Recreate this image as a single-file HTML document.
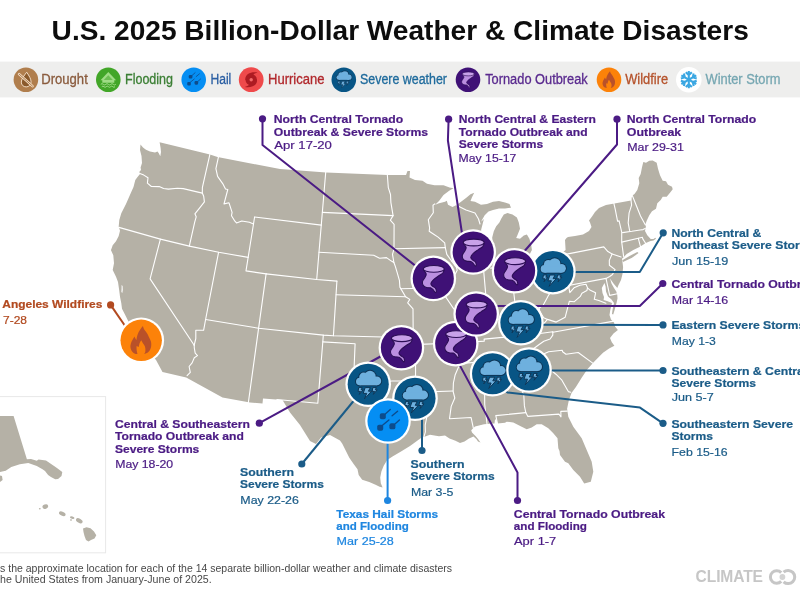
<!DOCTYPE html>
<html lang="en"><head><meta charset="utf-8"><title>U.S. 2025 Billion-Dollar Weather &amp; Climate Disasters</title>
<style>
html,body{margin:0;padding:0;background:#fff;}
body{width:800px;height:600px;overflow:hidden;}
svg{display:block;}
text{font-family:"Liberation Sans", sans-serif;}
.b{font-weight:700;}
.pl{fill:#4b1b84;} .sl{fill:#1b5c88;} .hl{fill:#1e86e0;} .fl{fill:#b24a20;}
.lab{font-size:11.6px;stroke-width:.22px;} .pl{stroke:#4b1b84;} .sl{stroke:#1b5c88;} .hl{stroke:#1e86e0;} .fl{stroke:#b24a20;}
.leg{font-size:14px;}
.ln{fill:none;stroke-width:2;stroke-linejoin:round;}
</style></head><body>
<svg width="800" height="600" viewBox="0 0 800 600">
<defs>
<g id="tornado">
<path d="M-9.7,-8.8 C-9,-7 -7.6,-5.8 -7.1,-4.5 C-6.8,-3 -8,-1.6 -8.8,-0.3 C-9.8,1 -10.8,2.4 -10.9,3.6 C-11,5 -10.8,6.2 -10.1,7 C-9.3,8.2 -8,8.8 -6.7,9.1 C-5.2,9.5 -3.8,9.2 -2.4,9.5 C-1.2,9.9 -0.6,10.8 0.1,11.6 C0.8,12.6 1.4,13.6 2.3,14.2 C3.2,13.8 3.3,13.2 3.1,12.5 C2.9,11.5 2.7,10.6 2.3,9.9 C1.5,9 0.2,8.6 -0.7,7.8 C-1.8,7 -2.6,6.2 -2.4,5.3 C-2,3.8 -1,2.5 0.1,1.4 C1.6,0 3.6,-1.2 5.2,-2.4 C6.8,-3.5 8.6,-4.4 9.5,-5.4 C10.3,-6.4 10.7,-7.6 10.9,-8.8 Z" fill="#bb8fe0" stroke="#2c0e55" stroke-width="1.1" stroke-linejoin="round"/>
<ellipse cx="0.5" cy="-9.5" rx="10.5" ry="3.4" fill="#c8a1e9" stroke="#2c0e55" stroke-width="1.1"/>
</g>
<g id="cloudshape">
<circle cx="-8.4" cy="-2.7" r="3.8"/><circle cx="-4.6" cy="-7.2" r="4.4"/><circle cx="1.8" cy="-7.7" r="5.7"/><circle cx="8.6" cy="-3.3" r="4.4"/><rect x="-8.4" y="-5.5" width="17" height="6.6"/>
</g>
<g id="severe">
<use href="#cloudshape" fill="#0d3556" stroke="#0d3556" stroke-width="2"/>
<use href="#cloudshape" fill="#6eb0de"/>
<g fill="#6eb0de" stroke="#0d3556" stroke-width="1" stroke-linejoin="round">
<path d="M-3,3.4 L2.2,3.4 L0.2,7 L3.4,7 L-3.7,14.7 L-1.5,9.2 L-5,9.2 Z"/>
<path d="M-9.5,3.4 L-5.9,3.4 L-7.1,5.6 L-5.1,5.6 L-8.9,10.2 L-7.7,7.2 L-10.1,7.2 Z"/>
<path d="M4.6,3.4 L8.2,3.4 L7,5.6 L9,5.6 L5.2,10.2 L6.4,7.2 L4,7.2 Z"/>
</g>
</g>
<g id="hail" fill="#0d4c8c" stroke="#0d4c8c" stroke-width="1.35" stroke-linecap="round">
<rect x="-8.2" y="-7.8" width="6" height="6" rx="1.9" stroke="none"/>
<rect x="-10.8" y="3.7" width="6" height="6" rx="1.9" stroke="none"/>
<rect x="1.4" y="2.3" width="6" height="6" rx="1.9" stroke="none"/>
<path d="M-3,-6.8 L2.3,-11.6 M4.1,-5.2 L9.6,-9.8 M-5.8,4.4 L0.9,-1.1 M6.4,3.4 L11.4,-1.1" fill="none"/>
</g>
<g id="flame">
<path d="M1.7,-14.2 C2.5,-11 3.5,-10 4.6,-8.75 C6,-7 7,-5 7.9,-2.9 C9,-1 10,1 10,2.9 C10.2,5 10,7 9.2,8.75 C8.5,10.5 7.5,11.8 6.25,12.5 C5,13.2 4,13.6 2.9,13.75 C3.8,12.8 4.2,11.5 4.2,10.4 C4.3,9 4.2,7.5 3.75,6.25 C3.2,5 2.5,3.8 1.7,2.9 C1.2,2 0.6,1 0,0 C-0.8,1.2 -1.4,2.3 -1.7,3.3 C-2,4.5 -2.3,5.6 -2.5,6.7 L-4.6,5.8 C-4.8,8 -4.6,11 -3.75,13.75 C-5,13.7 -6,13.5 -6.7,13.1 C-8,12.5 -9,11.5 -9.6,10.4 C-10.5,9 -10.9,7 -10.8,5.4 C-10.6,3.8 -10.2,2.5 -9.6,1.25 C-8.8,-0.5 -7.6,-2.2 -6.7,-3.75 C-6.3,-2.5 -5.6,-1.2 -4.75,-0.4 C-4.6,-2 -4.3,-3.8 -3.75,-5.4 C-3.2,-7.2 -2.2,-9 -1.25,-10.4 C-0.3,-11.8 0.8,-13 1.7,-14.2 Z" fill="#b95129"/>
</g>
<g id="iT"><circle r="22.8" fill="#fff"/><circle r="20.55" fill="#3f1176"/><use href="#tornado"/></g>
<g id="iS"><circle r="22.8" fill="#fff"/><circle r="20.55" fill="#085585"/><use href="#severe"/></g>
<g id="iH"><circle r="22.8" fill="#fff"/><circle r="20.55" fill="#058ef3"/><use href="#hail"/></g>
<g id="iF"><circle r="22.9" fill="#fff"/><circle r="20.7" fill="#fc8209"/><use href="#flame"/></g>
</defs>
<rect width="800" height="600" fill="#fff"/>

<text x="51.6" y="39.9" class="b" font-size="28" fill="#0d0d0d" textLength="697.2" lengthAdjust="spacingAndGlyphs">U.S. 2025 Billion-Dollar Weather &amp; Climate Disasters</text>
<rect x="0" y="61.6" width="800" height="35.8" fill="#eeeeed"/>
<g transform="translate(25.9,79.7)"><circle r="12.3" fill="#b07e4d"/><path d="M0.8,-7.5 C3.5,-3.5 5.2,-0.5 5.2,2.2 C5.2,5.2 3,7.2 0.3,7.2 C-2.6,7.2 -4.6,5.2 -4.6,2.4 C-4.6,-0.5 -2,-3.8 0.8,-7.5 Z" fill="#8a5a2c" stroke="#f2dcc4" stroke-width="1"/><path d="M-6.8,-5.6 L6.6,6.4" stroke="#f2dcc4" stroke-width="2.6" stroke-linecap="round"/><path d="M-6.8,-5.6 L6.6,6.4" stroke="#b07e4d" stroke-width="1" stroke-linecap="round"/></g>
<text x="41.2" y="84.4" class="leg" fill="#8a5b3d" stroke="#8a5b3d" stroke-width=".3" textLength="46.6" lengthAdjust="spacingAndGlyphs">Drought</text>
<g transform="translate(108.3,79.7)"><circle r="12.3" fill="#42a628"/><path d="M-7.8,0.6 L0,-7.6 L7.8,0.6 L6,0.6 L6,3 L-6,3 L-6,0.6 Z" fill="#9fdc85"/><path d="M-4.5,0.2 L0,-4.4 L4.5,0.2 Z" fill="#42a628" opacity=".55"/><path d="M-7.5,4.6 q1.25,-1.3 2.5,0 t2.5,0 t2.5,0 t2.5,0 t2.5,0 t2.5,0 M-6.5,7 q1.1,-1.2 2.2,0 t2.2,0 t2.2,0 t2.2,0 t2.2,0 t2.2,0" fill="none" stroke="#9fdc85" stroke-width="1"/></g>
<text x="125" y="84.4" class="leg" fill="#3b7f34" stroke="#3b7f34" stroke-width=".3" textLength="48" lengthAdjust="spacingAndGlyphs">Flooding</text>
<g transform="translate(193.7,79.7)"><circle r="12.3" fill="#058ef3"/><use href="#hail" transform="scale(0.6)"/></g>
<text x="210.5" y="84.4" class="leg" fill="#2b5fa3" stroke="#2b5fa3" stroke-width=".3" textLength="20.8" lengthAdjust="spacingAndGlyphs">Hail</text>
<g transform="translate(251.2,79.7)"><circle r="12.4" fill="#ef4a4b"/><g fill="#ad1b22"><circle r="5.7"/><path d="M-5.7,0.5 C-6.6,-5.2 -1.2,-8.4 6.4,-7.3 C3.4,-6.4 2,-5.4 1.6,-4 Z"/><path d="M5.7,-0.5 C6.6,5.2 1.2,8.4 -6.4,7.3 C-3.4,6.4 -2,5.4 -1.6,4 Z"/></g><circle r="1.7" fill="#f26a6a"/></g>
<text x="268" y="84.4" class="leg" fill="#b1282c" stroke="#b1282c" stroke-width=".3" textLength="56.5" lengthAdjust="spacingAndGlyphs">Hurricane</text>
<g transform="translate(343.8,79.7)"><circle r="12.3" fill="#085585"/><use href="#severe" transform="translate(0,-0.5) scale(0.6)"/></g>
<text x="360" y="84.4" class="leg" fill="#1d6a9c" stroke="#1d6a9c" stroke-width=".3" textLength="87" lengthAdjust="spacingAndGlyphs">Severe weather</text>
<g transform="translate(468,79.7)"><circle r="12.3" fill="#3f1176"/><use href="#tornado" transform="translate(0,-0.3) scale(0.58)"/></g>
<text x="485.2" y="84.4" class="leg" fill="#5a2a8f" stroke="#5a2a8f" stroke-width=".3" textLength="102.6" lengthAdjust="spacingAndGlyphs">Tornado Outbreak</text>
<g transform="translate(609,79.7)"><circle r="12.3" fill="#fc8209"/><use href="#flame" transform="scale(0.6)"/></g>
<text x="625.2" y="84.4" class="leg" fill="#b5522b" stroke="#b5522b" stroke-width=".3" textLength="43" lengthAdjust="spacingAndGlyphs">Wildfire</text>
<g transform="translate(688.8,79.7)"><circle r="12.8" fill="#fff"/><g stroke="#3ba7e2" stroke-width="2.1" stroke-linecap="butt" stroke-linejoin="miter" fill="none"><g transform="rotate(0)"><path d="M0,-8.6 L0,8.6 M-3,-7.4 L0,-4.6 L3,-7.4 M-3,7.4 L0,4.6 L3,7.4"/></g><g transform="rotate(60)"><path d="M0,-8.6 L0,8.6 M-3,-7.4 L0,-4.6 L3,-7.4 M-3,7.4 L0,4.6 L3,7.4"/></g><g transform="rotate(120)"><path d="M0,-8.6 L0,8.6 M-3,-7.4 L0,-4.6 L3,-7.4 M-3,7.4 L0,4.6 L3,7.4"/></g></g></g>
<text x="705.5" y="84.4" class="leg" fill="#76a7b2" stroke="#76a7b2" stroke-width=".3" textLength="75" lengthAdjust="spacingAndGlyphs">Winter Storm</text>
<g id="map"><path d="M159.6 142.2 L210.0 154.5 L217.5 157.0 L280.0 169.0 L326.0 172.5 L387.5 175.0 L406.0 175.0 L407.5 171.0 L410.0 171.0 L409.5 177.6 L415.0 180.0 L422.5 180.7 L427.0 183.7 L434.5 185.2 L443.5 185.2 L449.5 187.5 L453.5 188.2 L449.5 190.5 L443.5 195.0 L439.0 201.0 L435.2 204.7 L439.0 203.2 L445.0 201.7 L446.8 200.8 L448.0 204.7 L452.5 207.0 L457.0 204.7 L460.0 202.5 L466.0 198.0 L470.5 194.2 L474.2 192.7 L472.0 197.2 L470.5 201.0 L475.0 201.7 L481.0 204.7 L487.0 204.0 L493.0 201.7 L499.0 201.0 L505.0 202.5 L509.5 204.0 L511.0 207.7 L505.0 208.5 L499.0 208.5 L493.0 210.0 L488.5 211.5 L484.7 215.2 L481.7 220.5 L479.5 226.5 L478.6 229.0 L481.0 222.0 L483.9 219.0 L481.2 229.5 L480.5 245.0 L482.0 258.0 L487.0 266.0 L494.5 262.0 L494.8 252.5 L492.8 245.0 L492.2 237.5 L493.8 231.2 L496.2 226.2 L499.4 222.5 L501.2 218.8 L503.8 214.4 L507.5 213.1 L512.5 214.4 L516.9 217.5 L518.8 222.5 L520.0 228.8 L517.5 235.0 L516.2 238.1 L520.0 238.8 L523.8 235.6 L526.9 234.4 L529.4 238.8 L531.2 245.0 L531.9 250.0 L530.6 252.5 L528.0 258.0 L535.0 262.0 L550.0 256.0 L562.5 252.5 L565.6 250.0 L565.0 240.0 L566.5 238.0 L568.0 237.0 L575.0 236.0 L583.0 234.5 L589.0 231.0 L591.5 227.0 L590.0 222.5 L589.0 220.5 L592.0 216.5 L595.0 212.0 L599.0 208.0 L606.0 205.0 L614.4 203.6 L631.0 200.4 L632.3 195.5 L634.5 194.0 L637.3 190.0 L639.3 183.3 L638.7 178.0 L640.7 174.0 L642.0 167.3 L643.3 162.0 L646.0 162.7 L649.3 160.7 L652.7 160.4 L656.7 162.7 L658.0 168.7 L660.0 175.3 L662.7 180.7 L666.0 181.3 L668.0 184.7 L672.0 186.7 L672.7 189.3 L670.0 192.7 L666.7 196.7 L662.7 196.7 L660.7 200.0 L657.3 203.3 L656.0 208.7 L652.0 211.3 L649.3 215.3 L646.7 220.7 L645.3 224.7 L645.9 226.5 L645.0 231.0 L647.3 235.3 L650.7 239.0 L653.5 239.0 L655.3 237.8 L656.0 238.8 L653.5 240.4 L650.7 240.9 L649.3 241.4 L645.3 243.3 L640.0 246.7 L633.3 250.0 L626.7 254.0 L623.6 257.2 L622.0 258.8 L622.2 260.0 L623.1 267.0 L622.5 274.0 L621.0 280.0 L618.5 285.0 L617.3 288.0 L613.5 283.5 L610.0 278.5 L611.5 283.5 L614.0 288.0 L616.3 291.5 L617.3 295.0 L617.5 298.5 L616.5 303.0 L614.6 310.0 L613.2 314.5 L612.0 314.0 L612.5 310.0 L614.0 303.0 L611.5 299.5 L608.0 296.5 L606.0 291.5 L605.6 286.5 L604.5 283.0 L601.8 288.0 L602.5 293.0 L604.0 297.0 L603.6 300.0 L607.0 301.0 L612.0 303.0 L610.3 310.0 L609.5 315.0 L611.0 319.5 L614.0 322.5 L615.0 326.5 L617.9 330.0 L613.5 333.5 L610.0 337.9 L611.8 342.2 L614.4 345.8 L609.1 348.4 L603.0 352.8 L597.8 358.0 L593.4 362.4 L587.2 369.4 L582.0 377.2 L575.9 386.9 L571.5 393.0 L568.9 400.0 L567.1 408.8 L568.3 416.7 L573.3 426.7 L581.7 438.3 L586.7 450.0 L591.7 461.7 L593.3 471.7 L590.8 481.7 L584.2 483.5 L580.0 476.7 L573.3 470.0 L568.3 463.3 L565.0 461.7 L560.0 455.0 L559.5 451.0 L558.3 448.3 L557.5 438.3 L553.3 433.3 L548.3 428.3 L541.7 424.2 L536.7 424.2 L531.7 427.5 L526.7 429.2 L521.7 426.7 L513.3 422.5 L506.7 421.7 L505.0 422.7 L497.5 423.5 L496.5 419.5 L495.0 419.5 L494.5 423.5 L493.0 423.5 L484.0 424.2 L475.0 426.5 L471.2 430.2 L472.0 432.5 L475.5 436.0 L478.0 439.0 L480.5 442.5 L478.0 441.5 L476.5 439.2 L473.5 436.5 L469.0 438.5 L464.5 441.5 L460.0 443.0 L455.5 440.7 L449.5 438.5 L445.0 435.5 L439.0 436.2 L430.0 434.7 L421.0 438.0 L410.0 446.0 L400.6 451.8 L392.5 456.5 L387.2 460.0 L383.7 465.8 L381.4 471.6 L380.2 477.5 L380.8 483.3 L382.6 487.4 L379.6 486.8 L375.0 484.5 L369.2 482.1 L362.2 479.8 L358.7 475.1 L357.5 469.3 L354.0 464.6 L349.3 457.7 L345.8 450.7 L342.3 443.7 L340.0 440.5 L330.0 435.0 L321.0 437.5 L316.0 444.0 L310.0 441.0 L300.0 425.0 L290.0 412.5 L282.5 400.0 L263.0 398.5 L262.5 403.5 L250.0 402.5 L222.5 397.5 L186.2 377.5 L162.5 372.0 L156.0 360.0 L147.0 349.0 L135.0 335.0 L126.7 318.0 L124.7 314.0 L122.0 308.7 L121.3 303.3 L120.0 296.7 L119.3 291.0 L118.0 282.0 L116.0 276.7 L112.7 270.0 L114.0 263.3 L113.3 255.3 L110.9 250.0 L111.3 249.3 L112.7 245.3 L116.0 241.3 L118.7 236.0 L120.0 230.7 L118.7 226.7 L119.3 220.0 L121.3 213.3 L126.0 204.0 L130.7 193.3 L133.5 187.0 L135.3 180.0 L137.5 177.0 L140.0 174.0 L139.2 172.0 L141.0 170.0 L140.6 167.5 L142.0 163.0 L141.5 156.0 L140.0 150.0 L140.5 144.5 L143.0 147.5 L146.0 149.8 L150.0 151.5 L155.0 152.6 L157.5 151.5 L158.6 153.0 L160.3 156.2 L161.0 152.0 L160.6 148.0 Z" fill="#b5b1a6"/><path d="M622.3 260.2 L630.0 255.8 L637.3 252.0 L638.5 253.1 L632.0 257.8 L623.0 262.0 Z" fill="#b5b1a6"/>
<path d="M121.6 285.0 L122.6 286.0 L122.8 290.0 L122.3 293.0 L121.4 292.0 L121.6 288.5 Z" fill="#fff"/>
<g fill="none" stroke="#fff" stroke-width="1.1" stroke-linejoin="round" stroke-linecap="round">
<path d="M138.6 172.9 L143.8 175.1 L148.0 177.8 L147.4 183.2 L151.4 186.5 L159.2 186.6 L163.6 188.5 L168.4 189.1 L177.4 188.3 L183.2 188.6 L202.3 193.1"/>
<path d="M210.1 153.4 L202.4 187.3 L202.3 193.1 L203.7 196.2 L204.4 201.9 L199.7 207.9 L194.9 213.8 L196.2 216.8 L194.7 222.1 L189.3 246.1"/>
<path d="M118.9 227.4 L160.4 239.1 L189.3 246.1 L218.7 252.2 L248.2 257.4"/>
<path d="M160.4 239.1 L150.1 278.9 L194.2 345.2"/>
<path d="M194.2 345.2 L194.3 348.0 L195.2 353.1 L197.5 355.6 L194.3 357.8 L192.1 362.9 L189.1 366.5 L190.3 372.3 L187.1 375.6"/>
<path d="M194.2 345.2 L195.8 338.5 L195.8 330.2 L203.6 330.3 L205.6 319.5 L218.6 252.2"/>
<path d="M205.6 319.5 L258.6 328.2 L323.3 335.1 L333.4 335.8 L413.2 337.8"/>
<path d="M218.8 155.3 L215.9 168.7 L217.6 176.4 L222.7 183.6 L225.5 189.0 L227.8 189.5 L224.0 203.9 L229.0 202.8 L232.1 212.4 L231.5 215.7 L234.9 221.2 L236.5 222.9 L241.8 221.0 L249.4 222.3 L253.5 224.0"/>
<path d="M254.6 217.0 L246.0 270.9 L266.1 273.9"/>
<path d="M254.6 217.0 L321.3 225.1"/>
<path d="M325.8 171.2 L316.7 279.5"/>
<path d="M266.1 273.9 L316.7 279.5 L336.9 281.1"/>
<path d="M266.1 273.9 L248.0 405.1"/>
<path d="M336.9 281.1 L333.4 335.8"/>
<path d="M323.3 335.1 L322.8 341.9 L317.8 403.3 L276.9 399.5 L277.4 402.6"/>
<path d="M322.8 341.9 L355.1 343.8 L354.0 370.4 L362.8 374.3 L370.5 377.2 L377.1 380.1 L384.9 382.3 L391.7 381.0 L400.6 381.0 L407.3 379.6 L415.5 383.8 L420.4 384.9"/>
<path d="M322.4 212.4 L393.1 215.6"/>
<path d="M387.3 174.2 L388.3 187.7 L390.5 194.5 L390.9 202.6 L393.1 215.6 L390.3 220.2 L394.1 224.3 L394.0 248.8 L392.5 254.3 L393.9 262.5"/>
<path d="M319.0 252.3 L373.7 255.3 L379.6 258.2 L386.5 257.6 L391.4 261.1 L393.9 262.5 L395.4 266.6 L397.4 273.4 L399.4 280.3 L399.9 287.1 L405.6 296.7 L409.8 299.4 L407.7 302.8 L413.0 308.9 L413.2 337.8 L413.3 344.6 L415.6 359.7 L415.5 383.8"/>
<path d="M336.1 294.7 L405.6 296.7"/>
<path d="M394.0 248.8 L445.3 247.6"/>
<path d="M400.8 288.8 L442.1 287.8 L445.4 290.4"/>
<path d="M434.8 203.9 L433.0 205.3 L433.3 212.8 L428.3 219.7 L429.6 227.9 L429.2 231.3 L434.1 234.5 L438.1 237.1 L444.7 242.9 L445.3 247.6 L446.8 254.4 L451.6 261.0 L456.5 267.5 L457.2 270.2 L455.4 273.8 L448.6 279.0 L448.3 284.5 L445.4 290.4 L444.8 295.6 L449.3 302.3 L453.8 308.9 L459.2 311.3 L459.4 315.4 L458.1 319.6 L463.1 323.4 L467.9 331.4 L471.9 335.2 L469.7 342.2 L466.9 349.3 L463.4 361.9 L458.2 367.7 L455.2 374.7 L453.4 383.0 L453.1 391.3 L454.8 398.0 L451.2 406.4 L449.5 418.8 L471.1 417.5 L473.4 428.3"/>
<path d="M413.3 344.6 L461.6 342.8 L459.7 349.8 L466.9 349.3"/>
<path d="M420.4 384.9 L420.6 392.1 L453.0 391.0"/>
<path d="M420.6 392.1 L420.9 406.1 L426.8 416.9 L425.2 425.1 L425.4 431.9 L423.8 437.3"/>
<path d="M451.6 261.0 L479.9 259.0"/>
<path d="M457.0 205.5 L466.0 210.0 L475.0 213.0 L478.5 219.0 L480.0 224.0"/>
<path d="M483.5 268.9 L486.4 301.7 L485.7 308.0 L483.4 317.8 L482.8 323.4"/>
<path d="M490.6 268.1 L510.6 266.0 L524.3 264.7"/>
<path d="M510.6 266.0 L514.9 302.2"/>
<path d="M471.9 335.2 L478.8 333.3 L483.3 323.3 L488.5 321.5 L493.8 321.0 L498.9 319.1 L504.2 318.6 L506.9 314.1 L509.5 308.3 L515.1 302.2 L521.8 305.5 L528.2 306.1 L539.1 308.0 L543.0 305.4 L546.3 299.4 L548.8 294.8 L554.1 288.4 L556.1 281.2 L555.9 275.1"/>
<path d="M552.9 256.7 L557.9 287.5"/>
<path d="M539.1 308.0 L539.6 311.4 L543.7 317.8 L547.5 319.4 L540.7 327.2 L531.1 334.7"/>
<path d="M468.7 342.3 L484.3 341.1 L484.1 339.1 L531.1 334.7 L552.8 331.7 L552.9 332.3 L615.1 320.9"/>
<path d="M461.2 363.4 L484.4 361.7 L512.9 359.0 L527.2 357.3 L540.3 355.6"/>
<path d="M527.2 357.3 L529.8 351.5 L538.8 344.8 L543.8 341.3 L550.1 339.0 L552.8 335.1 L552.8 331.7"/>
<path d="M540.3 355.6 L548.6 351.7 L562.3 350.3 L562.6 351.7 L566.0 354.3 L578.2 352.5 L592.7 363.1"/>
<path d="M540.3 355.6 L538.1 360.1 L543.5 362.8 L550.1 369.5 L555.9 374.2 L561.9 380.2 L568.3 391.6 L570.7 392.2"/>
<path d="M484.4 361.7 L484.7 404.3 L487.4 427.3"/>
<path d="M512.9 359.0 L520.8 387.4 L523.8 395.0 L524.4 405.9 L525.8 412.6 L527.9 416.4 L558.9 414.1 L561.0 416.8 L560.8 411.4 L567.3 411.1"/>
<path d="M497.8 425.0 L495.8 415.6 L525.8 412.6"/>
<path d="M557.9 287.5 L606.0 278.4 L609.7 295.4 L617.3 293.7"/>
<path d="M568.6 285.7 L569.8 292.7 L574.0 287.8 L579.9 285.3 L586.0 284.2 L587.5 287.8 L590.3 290.3 L595.6 292.8 L594.3 299.3 L598.8 300.5 L605.9 303.2"/>
<path d="M587.5 287.8 L586.9 290.6 L581.9 293.3 L580.3 296.4 L574.3 301.7 L569.4 301.2 L565.2 317.2 L556.2 322.1 L547.5 319.4"/>
<path d="M559.8 251.8 L560.4 255.4 L603.8 246.9 L607.9 251.6 L612.1 254.0 L609.3 260.4 L609.4 265.3 L615.1 269.6 L612.5 274.5 L609.7 276.5 L606.0 278.4"/>
<path d="M612.1 254.0 L621.1 257.0"/>
<path d="M623.6 256.4 L621.7 242.1 L621.7 232.2 L619.1 220.9 L617.6 221.3 L615.2 209.2 L613.7 202.6"/>
<path d="M621.7 242.1 L638.3 238.3 L642.4 237.3 L642.8 238.9 L645.9 243.7"/>
<path d="M638.3 238.3 L640.8 247.9"/>
<path d="M622.5 232.6 L632.0 231.3 L640.0 230.0 L643.0 229.6 L645.2 228.4"/>
<path d="M629.6 230.5 L628.2 222.9 L629.1 212.8 L631.6 205.1 L630.8 198.3"/>
<path d="M632.3 195.5 L636.5 206.0 L640.5 216.0 L643.5 221.5 L645.3 224.7"/>
</g></g>
<g id="inset"><rect x="-2" y="396.6" width="107.6" height="156.2" fill="#fff" stroke="#e8e8e8" stroke-width="1"/>
<path d="M0.0 416.0 L13.6 416.0 L26.9 459.3 L31.0 459.0 L36.8 460.8 L38.5 459.5 L46.0 460.5 L56.6 467.8 L62.3 472.0 L61.5 476.0 L58.0 479.0 L55.2 479.2 L51.0 477.0 L48.1 474.9 L45.0 471.0 L42.5 469.3 L36.8 465.9 L28.3 463.0 L19.8 464.2 L11.3 467.0 L5.7 470.7 L0.0 472.0 Z" fill="#b5b1a6"/><path d="M0.0 475.5 L2.0 476.0 L2.6 480.0 L0.0 482.0 Z" fill="#b5b1a6"/>
<ellipse cx="45.3" cy="506.6" rx="2.9" ry="2.2" transform="rotate(-20 45.3 506.6)" fill="#b5b1a6"/>
<ellipse cx="39.8" cy="508.8" rx="0.9" ry="0.7" transform="rotate(0 39.8 508.8)" fill="#b5b1a6"/>
<ellipse cx="62.3" cy="513.7" rx="3.5" ry="2.0" transform="rotate(25 62.3 513.7)" fill="#b5b1a6"/>
<ellipse cx="72.2" cy="517.6" rx="2.3" ry="1.2" transform="rotate(15 72.2 517.6)" fill="#b5b1a6"/>
<ellipse cx="71" cy="520" rx="1.0" ry="0.7" transform="rotate(0 71 520)" fill="#b5b1a6"/>
<ellipse cx="79.3" cy="520.8" rx="3.6" ry="2.1" transform="rotate(30 79.3 520.8)" fill="#b5b1a6"/>
<path d="M83.0 528.5 L86.5 527.2 L90.5 528.3 L94.0 531.5 L96.3 535.3 L94.5 538.5 L91.0 540.0 L88.5 541.6 L86.0 540.0 L84.5 536.0 L83.5 532.0 Z" fill="#b5b1a6"/></g>
<g id="leaders">
<path class="ln" stroke="#4b1b84" d="M262.5 118.8 L262.5 145.0 L420.0 269.4"/><circle cx="262.5" cy="118.8" r="3.6" fill="#4b1b84"/>
<path class="ln" stroke="#4b1b84" d="M448.6 119.2 L447.9 140.5 L463.0 240.0"/><circle cx="448.6" cy="119.2" r="3.6" fill="#4b1b84"/>
<path class="ln" stroke="#4b1b84" d="M617.0 119.2 L617.0 144.5 L522.0 254.0"/><circle cx="617" cy="119.2" r="3.6" fill="#4b1b84"/>
<path class="ln" stroke="#1b5c88" d="M663.2 232.8 L639.8 272.0 L553.0 272.0"/><circle cx="663.2" cy="232.8" r="3.6" fill="#1b5c88"/>
<path class="ln" stroke="#4b1b84" d="M662.8 283.5 L639.8 306.0 L476.0 306.0"/><circle cx="662.8" cy="283.5" r="3.6" fill="#4b1b84"/>
<path class="ln" stroke="#1b5c88" d="M663.0 324.9 L521.4 324.7"/><circle cx="663" cy="324.9" r="3.6" fill="#1b5c88"/>
<path class="ln" stroke="#1b5c88" d="M663.0 370.5 L529.0 370.5"/><circle cx="663" cy="370.5" r="3.6" fill="#1b5c88"/>
<path class="ln" stroke="#1b5c88" d="M663.0 423.3 L640.0 407.6 L507.5 392.5 L492.6 382.0"/><circle cx="663" cy="423.3" r="3.6" fill="#1b5c88"/>
<path class="ln" stroke="#4b1b84" d="M517.5 500.5 L517.5 472.5 L453.0 352.6"/><circle cx="517.5" cy="500.5" r="3.6" fill="#4b1b84"/>
<path class="ln" stroke="#1b5c88" d="M422.0 450.5 L422.0 400.0"/><circle cx="422" cy="450.5" r="3.6" fill="#1b5c88"/>
<path class="ln" stroke="#1e86e0" d="M387.6 500.5 L387.6 421.0"/><circle cx="387.6" cy="500.5" r="3.6" fill="#1e86e0"/>
<path class="ln" stroke="#1b5c88" d="M301.8 464.0 L367.5 384.0"/><circle cx="301.8" cy="464" r="3.6" fill="#1b5c88"/>
<path class="ln" stroke="#4b1b84" d="M259.3 423.2 L385.0 354.0"/><circle cx="259.3" cy="423.2" r="3.6" fill="#4b1b84"/>
<path class="ln" stroke="#b24a20" d="M110.6 304.9 L127.0 328.7"/><circle cx="110.6" cy="304.9" r="3.6" fill="#b24a20"/>
</g>
<g id="icons">
<use href="#iS" x="552.9" y="271.6"/>
<use href="#iT" x="473.2" y="252"/>
<use href="#iT" x="514.6" y="270.7"/>
<use href="#iT" x="433.3" y="278.4"/>
<use href="#iS" x="520.9" y="322.7"/>
<use href="#iT" x="455.7" y="343.6"/>
<use href="#iT" x="476.2" y="314"/>
<use href="#iT" x="401.4" y="347.7"/>
<use href="#iS" x="492.6" y="373.8"/>
<use href="#iS" x="529" y="370"/>
<use href="#iS" x="368.2" y="384.2"/>
<use href="#iS" x="415" y="398.3"/>
<use href="#iH" x="388" y="421"/>
<use href="#iF" x="141.2" y="340.3"/>
</g>
<g id="labels">
<text x="273.8" y="123.3" class="lab pl b" textLength="129.3" lengthAdjust="spacingAndGlyphs">North Central Tornado</text>
<text x="273.8" y="135.8" class="lab pl b" textLength="154.2" lengthAdjust="spacingAndGlyphs">Outbreak &amp; Severe Storms</text>
<text x="274.3" y="148.8" class="lab pl" textLength="57.6" lengthAdjust="spacingAndGlyphs">Apr 17-20</text>
<text x="458.8" y="123.3" class="lab pl b" textLength="137" lengthAdjust="spacingAndGlyphs">North Central &amp; Eastern</text>
<text x="458.8" y="135.8" class="lab pl b" textLength="128.8" lengthAdjust="spacingAndGlyphs">Tornado Outbreak and</text>
<text x="458.8" y="148.3" class="lab pl b" textLength="84.3" lengthAdjust="spacingAndGlyphs">Severe Storms</text>
<text x="458.6" y="161.8" class="lab pl" textLength="57.8" lengthAdjust="spacingAndGlyphs">May 15-17</text>
<text x="626.8" y="123.3" class="lab pl b" textLength="129.4" lengthAdjust="spacingAndGlyphs">North Central Tornado</text>
<text x="626.8" y="135.8" class="lab pl b" textLength="54.4" lengthAdjust="spacingAndGlyphs">Outbreak</text>
<text x="627.2" y="150.8" class="lab pl" textLength="56.6" lengthAdjust="spacingAndGlyphs">Mar 29-31</text>
<text x="671.4" y="236.7" class="lab sl b" textLength="89.8" lengthAdjust="spacingAndGlyphs">North Central &amp;</text>
<text x="671.4" y="249.1" class="lab sl b" textLength="146" lengthAdjust="spacingAndGlyphs">Northeast Severe Storms</text>
<text x="672" y="264.7" class="lab sl" textLength="56.2" lengthAdjust="spacingAndGlyphs">Jun 15-19</text>
<text x="671.4" y="287.5" class="lab pl b" textLength="150.6" lengthAdjust="spacingAndGlyphs">Central Tornado Outbreak</text>
<text x="671.8" y="304.1" class="lab pl" textLength="56.4" lengthAdjust="spacingAndGlyphs">Mar 14-16</text>
<text x="671.4" y="329.3" class="lab sl b" textLength="133.8" lengthAdjust="spacingAndGlyphs">Eastern Severe Storms</text>
<text x="671.8" y="345" class="lab sl" textLength="44" lengthAdjust="spacingAndGlyphs">May 1-3</text>
<text x="671.4" y="374.5" class="lab sl b" textLength="135.8" lengthAdjust="spacingAndGlyphs">Southeastern &amp; Central</text>
<text x="671.4" y="386.7" class="lab sl b" textLength="84.6" lengthAdjust="spacingAndGlyphs">Severe Storms</text>
<text x="671.8" y="400.7" class="lab sl" textLength="42" lengthAdjust="spacingAndGlyphs">Jun 5-7</text>
<text x="671.4" y="427.8" class="lab sl b" textLength="121.6" lengthAdjust="spacingAndGlyphs">Southeastern Severe</text>
<text x="671.4" y="440.3" class="lab sl b" textLength="41.5" lengthAdjust="spacingAndGlyphs">Storms</text>
<text x="671.6" y="456" class="lab sl" textLength="56" lengthAdjust="spacingAndGlyphs">Feb 15-16</text>
<text x="513.8" y="517.5" class="lab pl b" textLength="151.2" lengthAdjust="spacingAndGlyphs">Central Tornado Outbreak</text>
<text x="513.8" y="529.6" class="lab pl b" textLength="73.2" lengthAdjust="spacingAndGlyphs">and Flooding</text>
<text x="514" y="545" class="lab pl" textLength="42.3" lengthAdjust="spacingAndGlyphs">Apr 1-7</text>
<text x="410.6" y="467.5" class="lab sl b" textLength="54" lengthAdjust="spacingAndGlyphs">Southern</text>
<text x="410.6" y="479.8" class="lab sl b" textLength="84" lengthAdjust="spacingAndGlyphs">Severe Storms</text>
<text x="411" y="495.5" class="lab sl" textLength="42.4" lengthAdjust="spacingAndGlyphs">Mar 3-5</text>
<text x="336.3" y="517.5" class="lab hl b" textLength="101.8" lengthAdjust="spacingAndGlyphs">Texas Hail Storms</text>
<text x="336.3" y="529.6" class="lab hl b" textLength="72.5" lengthAdjust="spacingAndGlyphs">and Flooding</text>
<text x="336.6" y="545" class="lab hl" textLength="57.2" lengthAdjust="spacingAndGlyphs">Mar 25-28</text>
<text x="240" y="476.3" class="lab sl b" textLength="54" lengthAdjust="spacingAndGlyphs">Southern</text>
<text x="240" y="488.4" class="lab sl b" textLength="83.8" lengthAdjust="spacingAndGlyphs">Severe Storms</text>
<text x="240.3" y="504.3" class="lab sl" textLength="58.6" lengthAdjust="spacingAndGlyphs">May 22-26</text>
<text x="115" y="427.5" class="lab pl b" textLength="135" lengthAdjust="spacingAndGlyphs">Central &amp; Southeastern</text>
<text x="115" y="440" class="lab pl b" textLength="128.8" lengthAdjust="spacingAndGlyphs">Tornado Outbreak and</text>
<text x="115" y="452.5" class="lab pl b" textLength="84.3" lengthAdjust="spacingAndGlyphs">Severe Storms</text>
<text x="115.2" y="467.8" class="lab pl" textLength="58" lengthAdjust="spacingAndGlyphs">May 18-20</text>
<text x="102.4" y="308.4" class="lab fl b" text-anchor="end" textLength="124.2" lengthAdjust="spacingAndGlyphs">Los Angeles Wildfires</text>
<text x="27" y="324" class="lab fl" text-anchor="end" textLength="46.6" lengthAdjust="spacingAndGlyphs">Jan 7-28</text>
</g>
<text x="452" y="571.5" font-size="10.5" fill="#484848" text-anchor="end" textLength="522.6" lengthAdjust="spacingAndGlyphs">This map shows the approximate location for each of the 14 separate billion-dollar weather and climate disasters</text>
<text x="211.7" y="583.1" font-size="10.5" fill="#484848" text-anchor="end" textLength="281.4" lengthAdjust="spacingAndGlyphs">that impacted the United States from January-June of 2025.</text>
<text x="695.6" y="582.2" class="b" font-size="15.6" fill="#c6c6c6" textLength="67.4" lengthAdjust="spacing">CLIMATE</text>
<g fill="none" stroke="#c6c6c6" stroke-width="3"><path d="M781.2,572.6 A6.3,6.3 0 1 0 781.2,581.4"/><path d="M783.6,572.2 A6.6,6.6 0 1 1 783.6,581.8"/></g><circle cx="782.4" cy="577" r="2.9" fill="#d3d3d3"/>
</svg></body></html>
